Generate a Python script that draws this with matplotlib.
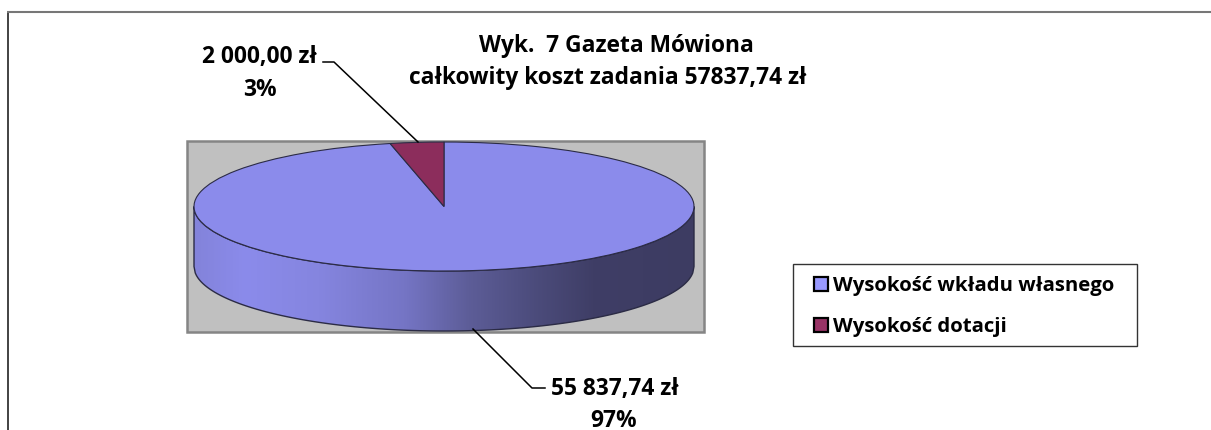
import numpy as np
import matplotlib
matplotlib.use("Agg")
import matplotlib.pyplot as plt
from matplotlib.colors import LinearSegmentedColormap
from matplotlib.patches import PathPatch, Rectangle
from matplotlib.path import Path
from matplotlib.lines import Line2D

labels = ["Wysokość wkładu własnego", "Wysokość dotacji"]
values = [55837.74, 2000.00]
amount_labels = ["55 837,74 zł", "2 000,00 zł"]
percent_labels = ["97%", "3%"]
title_lines = ["Wyk.  7 Gazeta Mówiona", "całkowity koszt zadania 57837,74 zł"]
colors = ["#8B8BEB", "#8C2D5C"]

W, H = 1211, 431
plt.rcParams['font.family'] = ['Open Sans', 'DejaVu Sans']
fig = plt.figure(figsize=(W / 100, H / 100), dpi=100, facecolor="white")

bg = fig.add_axes([0, 0, 1, 1], zorder=0)
bg.set_xlim(0, W); bg.set_ylim(H, 0); bg.axis("off")
bg.plot([7.5, 7.5], [H, 13], color="#222222", lw=1.2, solid_capstyle="butt")
bg.plot([7, W], [13, 13], color="#777777", lw=1.5, solid_capstyle="butt")
bg.add_patch(Rectangle((186.5, 141.5), 517, 191, fc="#C0C0C0", ec="#858585", lw=1.8))

# pie axes: the unit circle maps onto the ellipse, with room below for the rim
cx, cy, a, b, depth = 444, 207.5, 250, 64.5, 60
ax = fig.add_axes([(cx - a) / W, 1 - (cy + b + depth) / H, 2 * a / W, (2 * b + depth) / H], zorder=1)
ax.patch.set_alpha(0)

d = depth / b
x = np.linspace(-1, 1, 400)
yl = -np.sqrt(1 - x**2)
side = np.column_stack([np.r_[x, x[::-1]], np.r_[yl - d, yl[::-1]]])
side_path = Path(np.vstack([side, side[0]]), closed=True)
cmap = LinearSegmentedColormap.from_list("side", [
    (0.00, "#8383DA"), (0.10, "#8B8BEB"), (0.25, "#8585DF"), (0.42, "#7575C5"),
    (0.55, "#5D5D98"), (0.68, "#4C4C7C"), (0.80, "#3F3E66"), (1.00, "#3D3C62")])
im = ax.imshow(np.linspace(0, 1, 256)[None, :], extent=(-1, 1, -1 - d, 0),
               aspect="auto", cmap=cmap, vmin=0, vmax=1, zorder=1)
edge = PathPatch(side_path, fc="none", ec="#2B2B45", lw=1.0, zorder=2, clip_on=False)
ax.add_patch(edge)
im.set_clip_path(edge)

wedges, _ = ax.pie(values, colors=colors, startangle=90, counterclock=False,
                   wedgeprops=dict(edgecolor="#2B2B45", linewidth=0.8, zorder=3))
for w in wedges:
    w.set_clip_on(False)
ax.set_aspect("auto")
ax.set_xlim(-1, 1); ax.set_ylim(-1 - d, 1)
ax.axis("off")

fg = fig.add_axes([0, 0, 1, 1], zorder=2)
fg.set_xlim(0, W); fg.set_ylim(H, 0); fg.axis("off")
FS = 16.4
kw = dict(ha="center", va="center", fontsize=FS, fontweight="bold", color="black")
fg.text(616, 45.5, title_lines[0], **kw)
fg.text(607.5, 77.5, title_lines[1], **kw)
fg.text(259.5, 57.5, amount_labels[1], **kw)
fg.text(260, 89.5, percent_labels[1], **kw)
fg.text(614.5, 389.5, amount_labels[0], **kw)
fg.text(614, 421, percent_labels[0], **kw)
fg.add_line(Line2D([323, 334, 418], [63, 63, 143], color="black", lw=1.1))
fg.add_line(Line2D([473, 532, 545], [330, 389, 389], color="black", lw=1.1))

fg.add_patch(Rectangle((792.5, 264.5), 344, 82, fc="white", ec="#333333", lw=1.0))
for yy, c, t in zip([285, 326], ["#9999FF", "#993366"], labels):
    fg.add_patch(Rectangle((814, yy - 7), 14, 14, fc=c, ec="black", lw=1.6))
    fg.text(833, yy + 1.5, t, ha="left", va="center", fontsize=14.7, fontweight="bold")

fig.savefig("out.png", dpi=100)
